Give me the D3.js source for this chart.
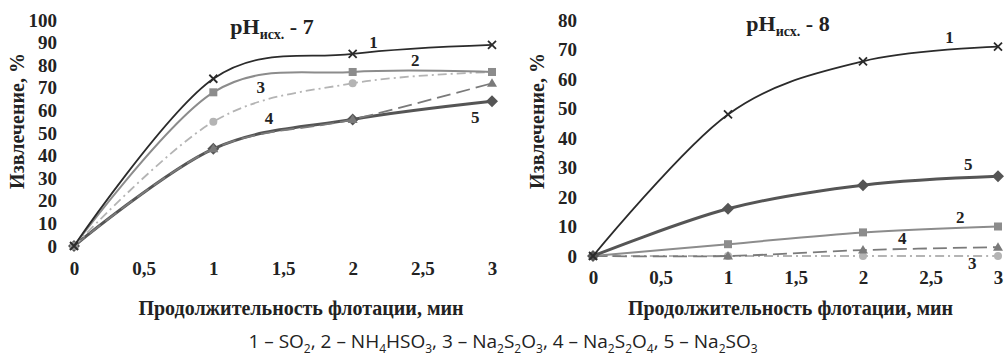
<!DOCTYPE html>
<html>
<head>
<meta charset="utf-8">
<script src="https://cdn.jsdelivr.net/npm/d3@7"></script>
<style>
  body { margin: 0; background: #fff; }
  svg text { font-family: "Liberation Serif", "Times New Roman", serif; font-weight: bold; fill: #222; }
  svg text.legend { font-family: "Open Sans", "Noto Sans", sans-serif; font-weight: normal; }
</style>
</head>
<body>
<svg id="chart" width="1006" height="361"></svg>
<script>
// Время флотации, мин
const times = [0, 1, 2, 3];
const xTicks = [0, 0.5, 1, 1.5, 2, 2.5, 3];
const yTicks7 = [0, 10, 20, 30, 40, 50, 60, 70, 80, 90, 100];
const yTicks8 = [0, 10, 20, 30, 40, 50, 60, 70, 80];

// Извлечение, % при pH 7
const ph7_so2 = [0, 74, 85, 89];
const ph7_nh4hso3 = [0, 68, 77, 77];
const ph7_na2s2o3 = [0, 55, 72, 77];
const ph7_na2s2o4 = [0, 43, 56, 72];
const ph7_na2so3 = [0, 43, 56, 64];

// Извлечение, % при pH 8
const ph8_so2 = [0, 48, 66, 71];
const ph8_nh4hso3 = [0, 4, 8, 10];
const ph8_na2s2o3 = [0, 0, 0, 0];
const ph8_na2s2o4 = [0, 0, 2, 3];
const ph8_na2so3 = [0, 16, 24, 27];

// стили линий для серий 1..5
const styles = [
  { color: '#2b2b2b', width: 1.8, dash: null, marker: 'cross', size: 4 },
  { color: '#8c8c8c', width: 2, dash: null, marker: 'square', size: 4 },
  { color: '#b4b4b4', width: 1.8, dash: '9,4,2,4', marker: 'circle', size: 4 },
  { color: '#7a7a7a', width: 1.8, dash: '14,6', marker: 'triangle', size: 5 },
  { color: '#555555', width: 3, dash: null, marker: 'diamond', size: 6 }
];

const svg = d3.select('#chart');

function drawPanel(cfg) {
  const x = d3.scaleLinear().domain([0, 3]).range(cfg.xRange);
  const y = d3.scaleLinear().domain(cfg.yDomain).range(cfg.yRange);

  // Оси без линий, только подписи
  const fmt = d => String(d).replace('.', ',');
  const gx = svg.append('g')
    .attr('transform', `translate(0,${cfg.yRange[0]})`)
    .call(d3.axisBottom(x).tickValues(xTicks).tickSize(0).tickPadding(cfg.xPad).tickFormat(fmt));
  const gy = svg.append('g')
    .attr('transform', `translate(${cfg.xRange[0]},0)`)
    .call(d3.axisLeft(y).tickValues(cfg.yTicks).tickSize(0).tickPadding(cfg.yPad));
  [gx, gy].forEach(g => {
    g.select('.domain').remove();
    g.selectAll('text')
      .style('font-size', '19px')
      .attr('fill', '#222');
  });

  const line = d3.line()
    .x((d, i) => x(times[i]))
    .y(d => y(d))
    .curve(d3.curveCardinal.tension(0));

  // порядок отрисовки: 1 сверху
  cfg.order.forEach(k => {
    const s = styles[k];
    svg.append('path')
      .datum(cfg.series[k])
      .attr('d', line)
      .attr('fill', 'none')
      .attr('stroke', s.color)
      .attr('stroke-width', s.width)
      .attr('stroke-dasharray', s.dash);

    const g = svg.append('g');
    cfg.series[k].forEach((v, i) => {
      const cx = x(times[i]), cy = y(v), r = s.size;
      if (s.marker === 'cross') {
        g.append('path')
          .attr('d', `M${cx - r},${cy - r}L${cx + r},${cy + r}M${cx - r},${cy + r}L${cx + r},${cy - r}`)
          .attr('stroke', s.color).attr('stroke-width', 1.8);
      } else if (s.marker === 'square') {
        g.append('rect')
          .attr('x', cx - r).attr('y', cy - r).attr('width', 2 * r).attr('height', 2 * r)
          .attr('fill', s.color);
      } else if (s.marker === 'circle') {
        g.append('circle').attr('cx', cx).attr('cy', cy).attr('r', r).attr('fill', s.color);
      } else if (s.marker === 'triangle') {
        g.append('path')
          .attr('d', `M${cx},${cy - r}L${cx + r},${cy + r * 0.7}L${cx - r},${cy + r * 0.7}Z`)
          .attr('fill', s.color);
      } else {
        g.append('path')
          .attr('d', `M${cx},${cy - r}L${cx + r},${cy}L${cx},${cy + r}L${cx - r},${cy}Z`)
          .attr('fill', s.color);
      }
    });
  });

  // номера кривых
  cfg.labels.forEach(l => {
    svg.append('text')
      .attr('x', x(l.x)).attr('y', y(l.y))
      .attr('text-anchor', 'middle')
      .attr('dominant-baseline', 'central')
      .style('font-size', '17px')
      .text(l.t);
  });

  // заголовок
  const t = svg.append('text')
    .attr('x', cfg.titleX).attr('y', cfg.titleY)
    .attr('text-anchor', 'middle')
    .style('font-size', '22px');
  t.append('tspan').text('pH');
  t.append('tspan').attr('dy', 5).style('font-size', '14px').text('исх.');
  t.append('tspan').attr('dy', -5).text(' - ' + cfg.ph);

  // подписи осей
  svg.append('text')
    .attr('x', (cfg.xRange[0] + cfg.xRange[1]) / 2 + cfg.xTitleShift)
    .attr('y', cfg.xTitleY)
    .attr('text-anchor', 'middle')
    .style('font-size', '20px')
    .text('Продолжительность флотации, мин');

  svg.append('text')
    .attr('transform', `translate(${cfg.yTitleX},${cfg.yTitleY}) rotate(-90)`)
    .attr('text-anchor', 'middle')
    .attr('dominant-baseline', 'central')
    .style('font-size', '20px')
    .text('Извлечение, %');
}

drawPanel({
  ph: 7,
  xRange: [74, 492], yDomain: [0, 100], yRange: [246, 20],
  yTicks: yTicks7, xPad: 16, yPad: 17,
  series: [ph7_so2, ph7_nh4hso3, ph7_na2s2o3, ph7_na2s2o4, ph7_na2so3],
  order: [4, 3, 2, 1, 0],
  labels: [
    { t: '1', x: 2.15, y: 90 }, { t: '2', x: 2.45, y: 82 }, { t: '3', x: 1.34, y: 70 },
    { t: '4', x: 1.4, y: 56.5 }, { t: '5', x: 2.88, y: 57 }
  ],
  titleX: 272, titleY: 34,
  xTitleShift: 18, xTitleY: 315,
  yTitleX: 17, yTitleY: 121
});

drawPanel({
  ph: 8,
  xRange: [593, 998], yDomain: [0, 80], yRange: [256, 20],
  yTicks: yTicks8, xPad: 15, yPad: 16,
  series: [ph8_so2, ph8_nh4hso3, ph8_na2s2o3, ph8_na2s2o4, ph8_na2so3],
  order: [2, 3, 1, 4, 0],
  labels: [
    { t: '1', x: 2.64, y: 74 }, { t: '5', x: 2.78, y: 31 }, { t: '2', x: 2.72, y: 13 },
    { t: '4', x: 2.29, y: 6 }, { t: '3', x: 2.81, y: -2.5 }
  ],
  titleX: 788, titleY: 31,
  xTitleShift: -5, xTitleY: 315,
  yTitleX: 537, yTitleY: 121
});

// легенда
const leg = svg.append('text')
  .attr('class', 'legend')
  .attr('x', 503).attr('y', 348)
  .attr('text-anchor', 'middle')
  .style('font-size', '19px');
const legParts = [
  ['1 – SO', ''], ['2', 'sub'], [', 2 – NH', ''], ['4', 'sub'], ['HSO', ''], ['3', 'sub'],
  [', 3 – Na', ''], ['2', 'sub'], ['S', ''], ['2', 'sub'], ['O', ''], ['3', 'sub'],
  [', 4 – Na', ''], ['2', 'sub'], ['S', ''], ['2', 'sub'], ['O', ''], ['4', 'sub'],
  [', 5 – Na', ''], ['2', 'sub'], ['SO', ''], ['3', 'sub']
];
let prevSub = false;
legParts.forEach(([txt, kind]) => {
  const sub = kind === 'sub';
  const ts = leg.append('tspan').text(txt);
  if (sub !== prevSub) ts.attr('dy', sub ? 5 : -5);
  if (sub) ts.style('font-size', '12px');
  prevSub = sub;
});
</script>
</body>
</html>
